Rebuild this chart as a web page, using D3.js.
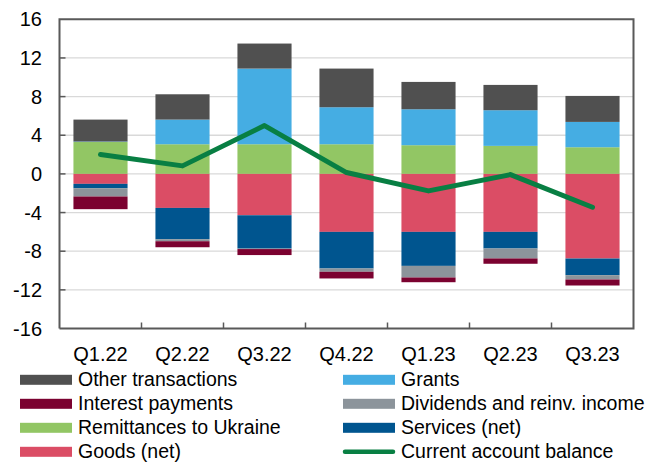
<!DOCTYPE html>
<html><head><meta charset="utf-8">
<script src="https://cdn.jsdelivr.net/npm/d3@7"></script>
<style>body{margin:0;background:#fff}svg{display:block;font-family:"Liberation Sans",Arial,sans-serif}</style>
</head><body><svg id="c" width="651" height="463"></svg>
<script>
const categories = ["Q1.22","Q2.22","Q3.22","Q4.22","Q1.23","Q2.23","Q3.23"];
const remittances = [3.3, 3.07, 3.07, 3.07, 2.97, 2.9, 2.76];
const grants      = [0.05, 2.55, 7.83, 3.83, 3.72, 3.69, 2.62];
const other       = [2.27, 2.62, 2.59, 4.0, 2.83, 2.62, 2.69];
const goods       = [-1.03, -3.52, -4.28, -6.0, -6.0, -6.0, -8.76];
const services    = [-0.45, -3.24, -3.45, -3.79, -3.52, -1.72, -1.72];
const dividends   = [-0.86, -0.21, -0.05, -0.34, -1.2, -1.03, -0.45];
const interest    = [-1.31, -0.62, -0.62, -0.69, -0.49, -0.55, -0.62];
const currentAccount = [2.0, 0.83, 5.0, 0.14, -1.76, -0.07, -3.45];
const yTicks = [-16,-12,-8,-4,0,4,8,12,16];

const series = [
  {name:"Remittances to Ukraine", values:remittances, color:"#92C664"},
  {name:"Grants", values:grants, color:"#45ADE3"},
  {name:"Other transactions", values:other, color:"#505050"},
  {name:"Goods (net)", values:goods, color:"#DB4D65"},
  {name:"Services (net)", values:services, color:"#00558F"},
  {name:"Dividends and reinv. income", values:dividends, color:"#8C949B"},
  {name:"Interest payments", values:interest, color:"#7B0230"}
];
const colorOf = Object.fromEntries(series.map(s=>[s.name,s.color]));

const svg = d3.select("#c");
const L=59.5, R=633.5, T=19.3, B=328.5;
const FS = 20, LFS = 19.5;
const x = d3.scaleBand().domain(categories).range([L,R]).paddingInner(0.34).paddingOuter(0.17);
const xc = d3.scaleBand().domain(categories).range([L,R]);
const y = d3.scaleLinear().domain([-16,16]).range([B,T]);

// gridlines
svg.append("g").selectAll("line").data(yTicks.filter(v=>v>-16&&v<16)).join("line")
  .attr("x1",L).attr("x2",R).attr("y1",d=>y(d)).attr("y2",d=>y(d))
  .attr("stroke","#d9d9d9").attr("stroke-width",1.3);

// stacked bars
categories.forEach((c,i)=>{
  let pos=0, neg=0;
  series.forEach(s=>{
    const v=s.values[i];
    let y0,y1;
    if(v>=0){y0=pos;y1=pos+v;pos=y1;} else {y0=neg;y1=neg+v;neg=y1;}
    svg.append("rect").attr("x",x(c)).attr("width",x.bandwidth())
      .attr("y",y(Math.max(y0,y1))).attr("height",Math.abs(y(y0)-y(y1)))
      .attr("fill",s.color);
  });
});

// frame
const ax="#595959";
svg.append("path").attr("d",`M${L},${B}V${T}H${R}V${B}H${L}`).attr("fill","none").attr("stroke",ax).attr("stroke-width",2);
// x ticks between categories
svg.append("g").selectAll("line").data(categories.slice(1)).join("line")
  .attr("x1",d=>xc(d)).attr("x2",d=>xc(d)).attr("y1",B).attr("y2",B-6)
  .attr("stroke",ax).attr("stroke-width",1.5);
// y ticks inward
svg.append("g").selectAll("line").data(yTicks.filter(v=>v>-16&&v<16)).join("line")
  .attr("x1",L).attr("x2",L+6).attr("y1",d=>y(d)).attr("y2",d=>y(d))
  .attr("stroke",ax).attr("stroke-width",1.5);

// current account line
svg.append("path").datum(currentAccount)
  .attr("d",d3.line().x((d,i)=>xc(categories[i])+xc.bandwidth()/2).y(d=>y(d)))
  .attr("fill","none").attr("stroke","#087F43").attr("stroke-width",5).attr("stroke-linejoin","round").attr("stroke-linecap","round");

// y labels
svg.append("g").selectAll("text").data(yTicks).join("text")
  .attr("x",42).attr("y",d=>y(d)).attr("dy","0.35em").attr("text-anchor","end")
  .attr("font-size",FS).attr("fill","#000").text(d=>d);
// x labels
svg.append("g").selectAll("text").data(categories).join("text")
  .attr("x",d=>xc(d)+xc.bandwidth()/2).attr("y",361).attr("text-anchor","middle")
  .attr("font-size",FS).attr("fill","#000").text(d=>d);

// legend
const legend = [
  ["Other transactions","Grants"],
  ["Interest payments","Dividends and reinv. income"],
  ["Remittances to Ukraine","Services (net)"],
  ["Goods (net)","Current account balance"]
];
legend.forEach((row,r)=>{
  row.forEach((name,cidx)=>{
    const gx = cidx===0?20:343, gy = 379.8 + r*24;
    if(name==="Current account balance"){
      svg.append("line").attr("x1",gx+2).attr("x2",gx+50).attr("y1",gy).attr("y2",gy)
        .attr("stroke","#087F43").attr("stroke-width",4.5).attr("stroke-linecap","round");
    } else {
      svg.append("rect").attr("x",gx).attr("y",gy-5).attr("width",52).attr("height",10).attr("fill",colorOf[name]);
    }
    svg.append("text").attr("x",gx+58).attr("y",gy).attr("dy","0.33em")
      .attr("font-size",LFS).attr("fill","#000").text(name);
  });
});
</script></body></html>
